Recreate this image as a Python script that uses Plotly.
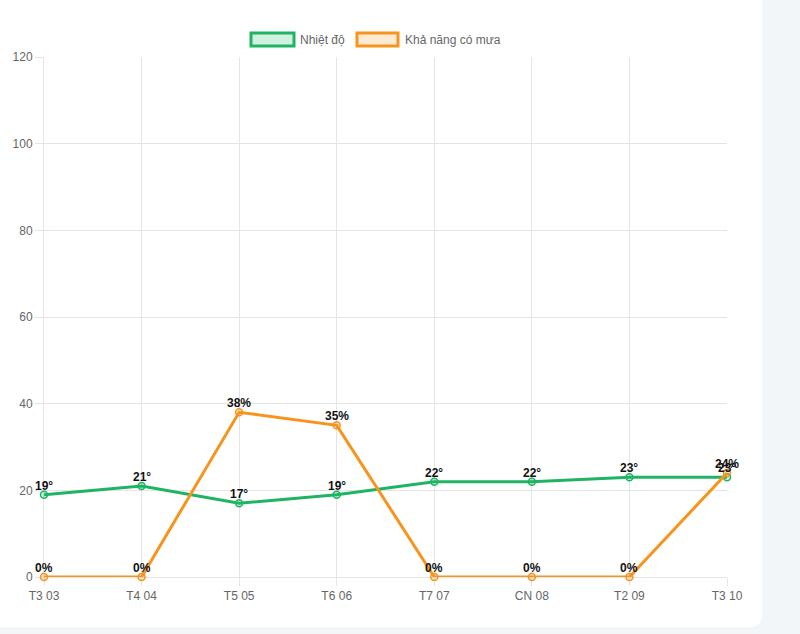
import plotly.graph_objects as go

days = ["T3 03", "T4 04", "T5 05", "T6 06", "T7 07", "CN 08", "T2 09", "T3 10"]
temperature = [19, 21, 17, 19, 22, 22, 23, 23]
rain_chance = [0, 0, 38, 35, 0, 0, 0, 24]
y_ticks = [0, 20, 40, 60, 80, 100, 120]

GREEN = "#1fb464"
GREEN_FILL = "rgba(31,180,100,0.2)"
ORANGE = "#f7941d"
ORANGE_FILL = "rgba(247,148,29,0.2)"
GRID = "#e4e4e4"
FONT = "Liberation Sans, Arial"

W, H = 800, 634
L, R, T, B = 44, 727, 57, 577

def px(x):
    return (x - L) / (R - L)

def py(y):
    return (B - y) / (B - T)

fig = go.Figure()
fig.add_trace(go.Scatter(
    x=days, y=temperature, mode="lines+markers",
    line=dict(color=GREEN, width=3),
    marker=dict(size=7, color=GREEN_FILL, line=dict(color=GREEN, width=1.5)),
    cliponaxis=False, name="Nhiệt độ", showlegend=False,
))
fig.add_trace(go.Scatter(
    x=days, y=rain_chance, mode="lines+markers",
    line=dict(color=ORANGE, width=3),
    marker=dict(size=7, color=ORANGE_FILL, line=dict(color=ORANGE, width=1.5)),
    cliponaxis=False, name="Khả năng có mưa", showlegend=False,
))

# white card with rounded bottom-right corner
cx0, cy0, cx1, cy1, rad = 0, 0, 762, 627, 12
card = (f"M {px(cx0)} {py(cy0)} L {px(cx1)} {py(cy0)} L {px(cx1)} {py(cy1 - rad)} "
        f"Q {px(cx1)} {py(cy1)} {px(cx1 - rad)} {py(cy1)} L {px(cx0)} {py(cy1)} Z")
shapes = [dict(type="path", path=card, xref="paper", yref="paper",
               fillcolor="white", line=dict(width=0), layer="below")]

# legend boxes
for x0, x1, col, fill in [(251, 294, GREEN, GREEN_FILL), (357, 398, ORANGE, ORANGE_FILL)]:
    shapes.append(dict(type="rect", xref="paper", yref="paper",
                       x0=px(x0), x1=px(x1), y0=py(46), y1=py(33),
                       fillcolor=fill, line=dict(color=col, width=3)))

annotations = [
    dict(text="Nhiệt độ", x=px(298), y=py(40), xref="paper", yref="paper",
         xanchor="left", yanchor="middle", showarrow=False,
         font=dict(family=FONT, size=12, color="#666")),
    dict(text="Khả năng có mưa", x=px(403), y=py(40), xref="paper", yref="paper",
         xanchor="left", yanchor="middle", showarrow=False,
         font=dict(family=FONT, size=12, color="#666")),
]

# data labels
for series, suffix in [(temperature, "°"), (rain_chance, "%")]:
    for d, v in zip(days, series):
        annotations.append(dict(
            x=d, y=v, xref="x", yref="y", text=f"{v}{suffix}",
            showarrow=False, xanchor="center", yanchor="bottom", yshift=0,
            font=dict(family=FONT, size=12, color="#111", weight="bold"),
        ))

fig.update_layout(
    width=W, height=H,
    margin=dict(l=L, r=W - R, t=T, b=H - B, pad=0),
    paper_bgcolor="#f3f6f8", plot_bgcolor="rgba(0,0,0,0)",
    shapes=shapes, annotations=annotations,
    font=dict(family=FONT, size=12, color="#666"),
)
fig.update_xaxes(
    type="category", range=[0, len(days) - 1], showgrid=True, gridcolor=GRID,
    ticks="outside", ticklen=8, tickcolor=GRID, showline=True, linecolor=GRID,
    mirror=False, tickfont=dict(size=12, color="#666"), zeroline=False,
    layer="below traces",
)
fig.update_yaxes(
    range=[0, 120], tickvals=y_ticks, showgrid=True, gridcolor=GRID,
    ticks="outside", ticklen=8, tickcolor=GRID, showline=True, linecolor=GRID,
    tickfont=dict(size=12, color="#666"), zeroline=False,
    layer="below traces",
)

fig.write_html("out.html", config={"displayModeBar": False},
               post_script="document.body.style.margin='0';")
